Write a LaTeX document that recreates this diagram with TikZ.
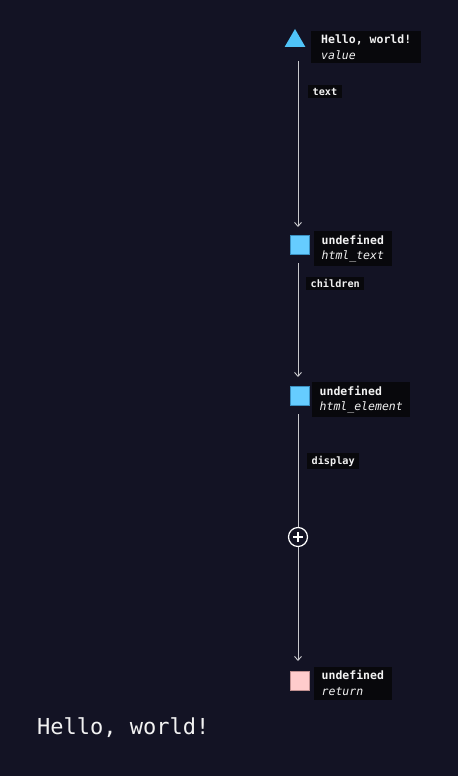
\documentclass[tikz,border=0pt]{standalone}
\usepackage{fontspec}
\setmonofont{DejaVu Sans Mono}
\usetikzlibrary{arrows.meta,shapes.geometric}
\definecolor{bg}{HTML}{131324}
\definecolor{lblbg}{HTML}{08080C}
\definecolor{edge}{HTML}{C8C8CC}
\definecolor{blueA}{HTML}{4FC3F7}
\definecolor{blueB}{HTML}{66CCFF}
\definecolor{blueBd}{HTML}{3A8FC0}
\definecolor{pinkA}{HTML}{FFCCCC}
\definecolor{pinkBd}{HTML}{C09090}
\definecolor{txt}{HTML}{F2F2F2}
\tikzset{
  lbl/.style={fill=lblbg, text=txt, anchor=west, align=left, inner xsep=7.5pt, inner ysep=4pt,
    font=\ttfamily\fontsize{11.5}{15.5}\selectfont},
  elbl/.style={fill=lblbg, text=txt, anchor=west, inner xsep=4.5pt, inner ysep=2.5pt,
    font=\ttfamily\bfseries\fontsize{10.2}{12}\selectfont},
  sq/.style={draw=blueBd, fill=blueB, minimum size=19pt, inner sep=0pt, line width=0.8pt},
  conn/.style={draw=edge, line width=0.9pt},
  arr/.style={conn, -{Straight Barb[length=4pt,width=7pt,line width=0.9pt]}},
}
\begin{document}
\begin{tikzpicture}[x=1pt,y=-1pt]
\fill[bg] (0,0) rectangle (458,776);
\useasboundingbox (0,0) rectangle (458,776);
% nodes
\node[regular polygon, regular polygon sides=3, fill=blueA, inner sep=0pt, minimum size=24pt] (n1) at (295,41) {};
\node[lbl, inner xsep=10pt] (l1) at (311,47) {\textbf{Hello, world!}\\\textit{value}};
\node[sq] (n2) at (300,245) {};
\node[lbl] (l2) at (314,248.5) {\textbf{undefined}\\\textit{html\_text}};
\node[sq] (n3) at (300,396) {};
\node[lbl] (l3) at (312,399.5) {\textbf{undefined}\\\textit{html\_element}};
\node[circle, draw=white, line width=1.2pt, minimum size=19pt, inner sep=0pt] (plus) at (298,537) {};
\draw[white, line width=1.2pt] (plus.center) ++(-5,0) -- ++(10,0) (plus.center) ++(0,-5) -- ++(0,10);
\node[sq, draw=pinkBd, fill=pinkA] (n4) at (300,681) {};
\node[lbl] (l4) at (314,683) {\textbf{undefined}\\\textit{return}};
% connectors
\coordinate (s1) at (298,61);
\coordinate (e1) at (298,227);
\coordinate (s2) at (298,263);
\coordinate (e2) at (298,377);
\coordinate (s3) at (298,414);
\coordinate (e4) at (298,661);
\draw[arr] (s1) -- (e1);
\draw[arr] (s2) -- (e2);
\draw[conn] (s3) -- (plus);
\draw[arr] (plus) -- (e4);
% edge labels
\node[elbl] (t1) at (308,91.5) {text};
\node[elbl] (t2) at (306,283.3) {children};
\node[elbl] (t3) at (307,461) {display};
% output
\node[anchor=west, text=txt, inner sep=0pt, font=\ttfamily\fontsize{22}{24}\selectfont] (out) at (37,728) {Hello, world!};
\end{tikzpicture}
\end{document}
